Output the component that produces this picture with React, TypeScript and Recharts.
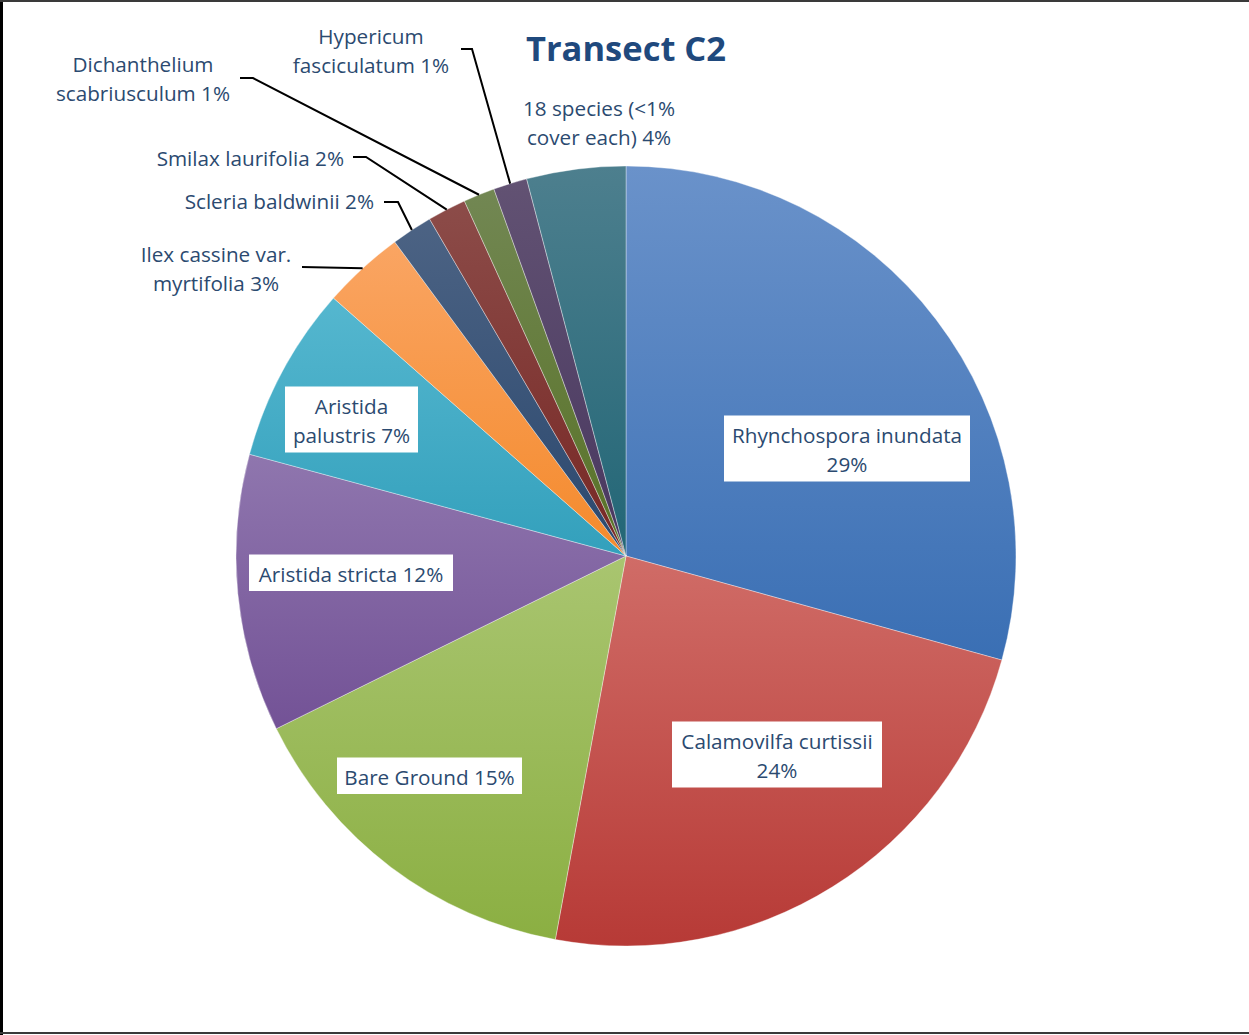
import React from 'react';
import { PieChart, Pie, Cell } from 'recharts';

const TITLE = 'Transect C2';

const species = [
  'Rhynchospora inundata',
  'Calamovilfa curtissii',
  'Bare Ground',
  'Aristida stricta',
  'Aristida palustris',
  'Ilex cassine var. myrtifolia',
  'Scleria baldwinii',
  'Smilax laurifolia',
  'Dichanthelium scabriusculum',
  'Hypericum fasciculatum',
  '18 species (<1% cover each)',
];

const cover = [29.3, 23.6, 14.8, 11.5, 7.3, 3.4, 1.7, 1.6, 1.3, 1.4, 4.1];

const colorTop = ['#6A92CA', '#D06C67', '#A9C570', '#8F76AE', '#55B7CF', '#FAA563', '#4C6384', '#8C4C49', '#728753', '#625273', '#4D7F8E'];
const colorBottom = ['#3A6FB4', '#B73A36', '#8BAF42', '#735296', '#33A0BC', '#F48A2C', '#2B486E', '#772724', '#587226', '#48375F', '#226676'];

const wrapAfterWords = [2, 2, 0, 0, 1, 3, 0, 0, 1, 1, 3];

const LABEL_COLOR = '#2B4A70';
const FONT = '"Open Sans", "DejaVu Sans", sans-serif';
const FS = 20.7;
const LH = 29.5;

type Layout = {
  x: number;
  y: number;
  anchor: 'middle' | 'end' | 'start';
  boxW?: number;
  leader?: { sx: number; ex: number; y: number };
};

const labelLayout: Layout[] = [
  { x: 847, y: 435, anchor: 'middle', boxW: 246 },
  { x: 777, y: 741, anchor: 'middle', boxW: 210 },
  { x: 429.5, y: 777, anchor: 'middle', boxW: 185 },
  { x: 351, y: 574, anchor: 'middle', boxW: 204 },
  { x: 351.5, y: 406, anchor: 'middle', boxW: 133 },
  { x: 216, y: 254, anchor: 'middle', leader: { sx: 302, ex: 302, y: 267 } },
  { x: 374, y: 201, anchor: 'end', leader: { sx: 384, ex: 398, y: 202 } },
  { x: 344, y: 158, anchor: 'end', leader: { sx: 353, ex: 366, y: 157 } },
  { x: 143, y: 64, anchor: 'middle', leader: { sx: 240, ex: 253, y: 78 } },
  { x: 371, y: 36, anchor: 'middle', leader: { sx: 461, ex: 472, y: 49 } },
  { x: 599, y: 108, anchor: 'middle' },
];

const data = species.map((name, i) => ({ name, value: cover[i] }));

function labelLines(i: number, value: number): string[] {
  const full = `${species[i]} ${Math.round(value)}%`;
  const words = full.split(' ');
  const k = wrapAfterWords[i];
  if (!k) return [full];
  return [words.slice(0, k).join(' '), words.slice(k).join(' ')];
}

const RAD = Math.PI / 180;

const renderLabel = (props: any) => {
  const { cx, cy, midAngle, outerRadius, index, value } = props;
  const lay = labelLayout[index];
  const lines = labelLines(index, value);
  const arcX = cx + outerRadius * Math.cos(-midAngle * RAD);
  const arcY = cy + outerRadius * Math.sin(-midAngle * RAD);
  return (
    <g key={`lbl-${index}`}>
      {lay.boxW ? (
        <rect
          x={lay.x - lay.boxW / 2}
          y={lay.y - 19.5}
          width={lay.boxW}
          height={lines.length * LH + 7}
          fill="#ffffff"
        />
      ) : null}
      {lay.leader ? (
        <polyline
          points={`${lay.leader.sx},${lay.leader.y} ${lay.leader.ex},${lay.leader.y} ${arcX},${arcY}`}
          fill="none"
          stroke="#000000"
          strokeWidth={2}
        />
      ) : null}
      <text
        x={lay.x}
        y={lay.y}
        textAnchor={lay.anchor}
        fontFamily={FONT}
        fontSize={FS}
        fill={LABEL_COLOR}
      >
        {lines.map((ln, j) => (
          <tspan key={j} x={lay.x} y={lay.y + 7.5 + j * LH}>
            {ln}
          </tspan>
        ))}
      </text>
    </g>
  );
};

export default function App() {
  return (
    <div style={{ position: 'absolute', left: 0, top: 0, width: 1249, height: 1035, background: '#ffffff' }}>
      <PieChart width={1249} height={1035} margin={{ top: 0, right: 0, bottom: 0, left: 0 }}>
        <defs>
          {colorTop.map((c, i) => (
            <linearGradient key={i} id={`grad${i}`} x1="0" y1="0" x2="0" y2="1">
              <stop offset="0%" stopColor={c} />
              <stop offset="100%" stopColor={colorBottom[i]} />
            </linearGradient>
          ))}
        </defs>
        <text
          x={626}
          y={61}
          textAnchor="middle"
          fontFamily={FONT}
          fontWeight={700}
          fontSize={34.5}
          fill="#1F497D"
        >
          {TITLE}
        </text>
        <Pie
          data={data}
          dataKey="value"
          nameKey="name"
          cx={626}
          cy={556}
          outerRadius={390}
          innerRadius={0}
          startAngle={90}
          endAngle={-270}
          stroke="#ffffff"
          strokeWidth={0.6}
          strokeOpacity={0.6}
          isAnimationActive={false}
          label={renderLabel}
          labelLine={false}
        >
          {data.map((d, i) => (
            <Cell key={d.name} fill={`url(#grad${i})`} />
          ))}
        </Pie>
      </PieChart>
      <div style={{ position: 'absolute', left: 0, top: 0, width: 3, height: 1035, background: '#000' }} />
      <div style={{ position: 'absolute', left: 0, top: 0, width: 1249, height: 2, background: '#3a3a3a' }} />
      <div style={{ position: 'absolute', left: 0, top: 1032, width: 1249, height: 2, background: '#3a3a3a' }} />
    </div>
  );
}
